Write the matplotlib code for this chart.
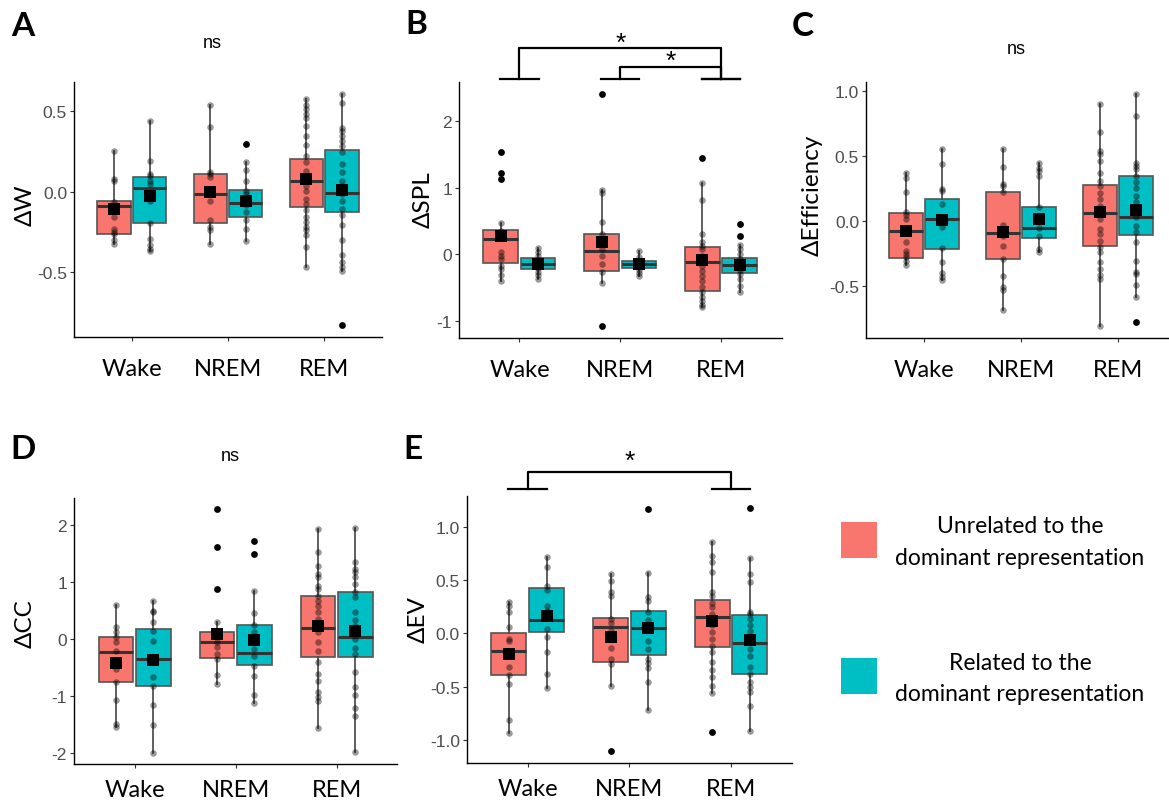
import matplotlib
matplotlib.use("Agg")
import matplotlib.pyplot as plt
from matplotlib.patches import Rectangle

# figure size in pixels (saved at dpi 100)
W, H = 1169, 804

conditions = ["Wake", "NREM", "REM"]
legend_labels = ["Unrelated to the\ndominant representation",
                 "Related to the\ndominant representation"]
colors = ["#F8766D", "#00BFC4"]

# box stats per condition: (whisker low, q1, median, q3, whisker high)
# _u = unrelated, _r = related

# ---- A : delta W
dw_box_u = [(-0.323, -0.261, -0.090, -0.056, 0.253), (-0.323, -0.193, -0.014, 0.111, 0.539), (-0.467, -0.097, 0.068, 0.204, 0.572)]
dw_box_r = [(-0.368, -0.195, 0.023, 0.093, 0.438), (-0.309, -0.158, -0.074, 0.010, 0.185), (-0.494, -0.128, -0.008, 0.255, 0.607)]
dw_mean_u = [-0.107, -0.004, 0.078]
dw_mean_r = [-0.029, -0.056, 0.012]
dw_pts_u = [[0.253, 0.078, 0.068, -0.066, -0.082, -0.097, -0.107, -0.158, -0.23, -0.251, -0.261, -0.302, -0.323],
            [0.539, 0.403, 0.119, 0.109, 0.088, -0.056, -0.179, -0.22, -0.241, -0.323],
            [0.572, 0.535, 0.51, 0.48, 0.459, 0.407, 0.346, 0.288, 0.222, 0.181, 0.13, 0.099, 0.068, 0.037, 0.006,
             -0.045, -0.076, -0.117, -0.158, -0.189, -0.22, -0.241, -0.272, -0.344, -0.467]]
dw_pts_r = [[0.438, 0.187, 0.109, 0.099, 0.068, 0.047, -0.014, -0.035, -0.056, -0.195, -0.292, -0.333, -0.354, -0.368],
            [0.185, 0.136, 0.068, 0.006, -0.014, -0.045, -0.086, -0.128, -0.179, -0.23, -0.309],
            [0.607, 0.547, 0.397, 0.377, 0.346, 0.315, 0.284, 0.243, 0.171, 0.119, 0.068, 0.037, 0.006, -0.014,
             -0.056, -0.107, -0.148, -0.21, -0.302, -0.395, -0.436, -0.467, -0.494]]
dw_out_u = [[], [], []]
dw_out_r = [[], [0.296], [-0.827]]

# ---- B : delta SPL
spl_box_u = [(-0.393, -0.124, 0.229, 0.363, 0.468), (-0.433, -0.249, 0.055, 0.299, 0.965), (-0.791, -0.552, -0.119, 0.109, 1.075)]
spl_box_r = [(-0.368, -0.219, -0.144, -0.06, 0.09), (-0.318, -0.209, -0.144, -0.095, 0.045), (-0.567, -0.284, -0.159, -0.06, 0.139)]
spl_mean_u = [0.274, 0.179, -0.09]
spl_mean_r = [-0.144, -0.144, -0.154]
spl_pts_u = [[0.468, 0.353, 0.303, 0.03, -0.02, -0.07, -0.169, -0.219, -0.308, -0.393],
             [0.965, 0.925, 0.488, 0.303, 0.154, 0.08, -0.02, -0.144, -0.269, -0.433],
             [1.075, 0.816, 0.303, 0.189, 0.129, 0.08, -0.02, -0.095, -0.169, -0.244, -0.318, -0.393, -0.493,
              -0.567, -0.632, -0.692, -0.756, -0.791]]
spl_pts_r = [[0.09, 0.03, -0.03, -0.085, -0.119, -0.144, -0.169, -0.209, -0.259, -0.308, -0.368],
             [0.045, -0.045, -0.119, -0.169, -0.229, -0.279, -0.318],
             [0.139, 0.08, 0.005, -0.07, -0.119, -0.169, -0.229, -0.294, -0.368, -0.468, -0.567]]
spl_out_u = [[1.537, 1.224, 1.134], [2.403, -1.075], [1.448]]
spl_out_r = [[], [], [0.448, 0.269]]
spl_sig = [(0, 2), (1, 2)]

# ---- C : delta Efficiency
eff_box_u = [(-0.342, -0.286, -0.077, 0.061, 0.372), (-0.686, -0.296, -0.094, 0.224, 0.554), (-0.806, -0.189, 0.059, 0.278, 0.9)]
eff_box_r = [(-0.452, -0.214, 0.015, 0.168, 0.554), (-0.24, -0.128, -0.054, 0.107, 0.444), (-0.584, -0.105, 0.028, 0.344, 0.977)]
eff_mean_u = [-0.079, -0.087, 0.066]
eff_mean_r = [0.01, 0.015, 0.082]
eff_pts_u = [[0.367, 0.329, 0.224, 0.066, 0.046, 0.015, -0.074, -0.158, -0.227, -0.253, -0.278, -0.311, -0.342],
             [0.554, 0.418, 0.288, 0.27, 0.224, -0.028, -0.117, -0.189, -0.296, -0.426, -0.508, -0.533, -0.686],
             [0.9, 0.684, 0.538, 0.513, 0.462, 0.372, 0.309, 0.27, 0.219, 0.168, 0.117, 0.054, 0.015, -0.061,
              -0.099, -0.15, -0.202, -0.24, -0.316, -0.367, -0.413, -0.444, -0.806]]
eff_pts_r = [[0.554, 0.441, 0.245, 0.232, 0.13, -0.048, -0.209, -0.316, -0.398, -0.431, -0.452],
             [0.444, 0.411, 0.385, 0.347, 0.105, 0.028, -0.056, -0.117, -0.214, -0.24],
             [0.977, 0.811, 0.449, 0.423, 0.398, 0.347, 0.301, 0.25, 0.194, 0.143, 0.092, 0.028, -0.036, -0.087,
              -0.158, -0.304, -0.393, -0.406, -0.495, -0.584]]
eff_out_u = [[], [], []]
eff_out_r = [[], [], [-0.776]]

# ---- D : delta CC
cc_box_u = [(-1.541, -0.753, -0.224, 0.029, 0.606), (-0.794, -0.341, -0.047, 0.118, 0.306), (-1.559, -0.318, 0.2, 0.765, 1.929)]
cc_box_r = [(-2.0, -0.824, -0.353, 0.176, 0.676), (-1.129, -0.459, -0.247, 0.253, 0.853), (-1.982, -0.312, 0.035, 0.829, 1.959)]
cc_mean_u = [-0.424, 0.088, 0.224]
cc_mean_r = [-0.365, -0.012, 0.141]
cc_pts_u = [[0.606, 0.206, 0.118, 0.029, -0.047, -0.206, -0.382, -0.441, -0.529, -0.753, -1.071, -1.5, -1.541],
            [0.306, 0.118, 0.059, -0.047, -0.147, -0.265, -0.353, -0.629, -0.794],
            [1.929, 1.529, 1.294, 1.147, 1.088, 0.941, 0.882, 0.765, 0.676, 0.588, 0.47, 0.353, 0.235, 0.118,
             -0.059, -0.206, -0.412, -0.618, -0.735, -0.941, -1.029, -1.088, -1.559]]
cc_pts_r = [[0.676, 0.5, 0.47, 0.306, 0.147, -0.029, -0.382, -0.676, -0.824, -1.159, -1.518, -2.0],
            [0.853, 0.453, 0.253, 0.118, 0.029, -0.176, -0.306, -0.471, -0.659, -0.988, -1.129],
            [1.959, 1.353, 1.235, 1.176, 1.088, 0.971, 0.824, 0.735, 0.482, 0.335, 0.235, 0.088, 0.0, -0.165,
             -0.265, -0.576, -0.853, -0.988, -1.206, -1.353, -1.982]]
cc_out_u = [[], [2.282, 1.618, 0.882], []]
cc_out_r = [[], [1.724, 1.5], []]

# ---- E : delta EV
ev_box_u = [(-0.934, -0.388, -0.166, 0.006, 0.297), (-0.497, -0.266, 0.056, 0.141, 0.556), (-0.559, -0.125, 0.15, 0.313, 0.853)]
ev_box_r = [(-0.516, 0.009, 0.125, 0.422, 0.716), (-0.722, -0.203, 0.047, 0.209, 0.566), (-0.919, -0.378, -0.094, 0.172, 0.706)]
ev_mean_u = [-0.197, -0.038, 0.119]
ev_mean_r = [0.159, 0.053, -0.063]
ev_pts_u = [[0.297, 0.253, 0.203, 0.056, -0.053, -0.072, -0.194, -0.319, -0.391, -0.475, -0.813, -0.934],
            [0.556, 0.494, 0.384, 0.353, 0.134, 0.097, 0.019, -0.141, -0.241, -0.288, -0.497],
            [0.853, 0.722, 0.666, 0.572, 0.391, 0.353, 0.281, 0.244, 0.181, 0.134, 0.078, 0.009, -0.053, -0.116,
             -0.178, -0.266, -0.341, -0.413, -0.491, -0.559]]
ev_pts_r = [[0.716, 0.619, 0.447, 0.409, 0.259, 0.213, 0.15, 0.041, -0.038, -0.178, -0.381, -0.516],
            [0.566, 0.344, 0.306, 0.197, 0.128, 0.041, -0.069, -0.147, -0.241, -0.281, -0.328, -0.459, -0.722],
            [0.706, 0.556, 0.484, 0.203, 0.181, 0.134, 0.078, 0.025, -0.069, -0.147, -0.209, -0.319, -0.381,
             -0.459, -0.506, -0.547, -0.684, -0.919]]
ev_out_u = [[], [-1.1], [-0.922]]
ev_out_r = [[], [1.166], [1.175]]
ev_sig = [(0, 2)]

label_font = ["Lato", "DejaVu Sans"]
num_font = ["Liberation Sans", "DejaVu Sans"]

fig = plt.figure(figsize=(W / 100, H / 100), dpi=100)


def fx(x):
    return x / W


def fy(y):
    return 1 - y / H


def px_axes(l, t, r, b):
    return fig.add_axes([l / W, 1 - b / H, (r - l) / W, (b - t) / H])


def draw_panel(ax, boxes, means, pts, outs, ylim, yticks, yticklabels, xpad=12):
    for g in range(2):
        off = -0.185 if g == 0 else 0.185
        pos = [i + 1 + off for i in range(len(conditions))]
        stats = [dict(whislo=b[0], q1=b[1], med=b[2], q3=b[3], whishi=b[4]) for b in boxes[g]]
        ax.bxp(stats, positions=pos, widths=0.345, patch_artist=True, showfliers=False, showcaps=False,
               boxprops=dict(facecolor=colors[g], edgecolor="#555555", linewidth=1.2),
               whiskerprops=dict(color="#444444", linewidth=1.2),
               medianprops=dict(color="#333333", linewidth=2.2), manage_ticks=False)
        for i in range(len(conditions)):
            ax.scatter([pos[i]] * len(pts[g][i]), pts[g][i], s=22, color="black", alpha=0.4, lw=0, zorder=3)
            if outs[g][i]:
                ax.scatter([pos[i]] * len(outs[g][i]), outs[g][i], s=24, color="black", lw=0, zorder=3)
        ax.scatter(pos, means[g], marker="s", s=70, color="black", lw=0, zorder=4)
    ax.set_xlim(0.4, 3.6)
    ax.set_ylim(*ylim)
    ax.set_xticks([1, 2, 3])
    ax.set_xticklabels(conditions, family=label_font, fontsize=17, color="black")
    ax.set_yticks(yticks)
    ax.set_yticklabels(yticklabels, family=num_font, fontsize=12.5, color="#4d4d4d")
    ax.tick_params(axis="both", length=3, width=0.8, color="#333333")
    ax.tick_params(axis="y", pad=2)
    ax.tick_params(axis="x", pad=xpad)
    for s in ["top", "right"]:
        ax.spines[s].set_visible(False)
    for s in ["left", "bottom"]:
        ax.spines[s].set_linewidth(1.0)
        ax.spines[s].set_color("black")


def draw_brackets(ax, sig, base, tops, stars):
    for (a, b), top, st in zip(sig, tops, stars):
        for c in (a, b):
            ax.plot([c + 1 - 0.19, c + 1 + 0.19], [base, base], color="black", lw=1.6, clip_on=False)
        ax.plot([a + 1, a + 1, b + 1, b + 1], [base, top, top, base], color="black", lw=1.6, clip_on=False)
        ax.text((a + b) / 2 + 1, st, "*", ha="center", va="center", fontsize=19, family=num_font, clip_on=False)


# A
axA = px_axes(74, 83, 382, 338)
draw_panel(axA, (dw_box_u, dw_box_r), (dw_mean_u, dw_mean_r), (dw_pts_u, dw_pts_r), (dw_out_u, dw_out_r),
           (-0.9025, 0.68), [-0.5, 0, 0.5], ["-0.5", "0.0", "0.5"])
# B
axB = px_axes(459, 83, 781.5, 339.3)
draw_panel(axB, (spl_box_u, spl_box_r), (spl_mean_u, spl_mean_r), (spl_pts_u, spl_pts_r), (spl_out_u, spl_out_r),
           (-1.257, 2.58), [-1, 0, 1, 2], ["-1", "0", "1", "2"])
draw_brackets(axB, spl_sig, 2.62, [3.09, 2.80], [3.17, 2.89])
# C
axC = px_axes(866, 83, 1176, 339.3)
draw_panel(axC, (eff_box_u, eff_box_r), (eff_mean_u, eff_mean_r), (eff_pts_u, eff_pts_r), (eff_out_u, eff_out_r),
           (-0.902, 1.069), [-0.5, 0, 0.5, 1.0], ["-0.5", "0.0", "0.5", "1.0"])
# D
axD = px_axes(74, 499.3, 397.4, 765)
draw_panel(axD, (cc_box_u, cc_box_r), (cc_mean_u, cc_mean_r), (cc_pts_u, cc_pts_r), (cc_out_u, cc_out_r),
           (-2.2, 2.477), [-2, -1, 0, 1, 2], ["-2", "-1", "0", "1", "2"], xpad=8)
# E
axE = px_axes(466.7, 497.3, 792, 764)
draw_panel(axE, (ev_box_u, ev_box_r), (ev_mean_u, ev_mean_r), (ev_pts_u, ev_pts_r), (ev_out_u, ev_out_r),
           (-1.216, 1.284), [-1.0, -0.5, 0, 0.5, 1.0], ["-1.0", "-0.5", "0.0", "0.5", "1.0"], xpad=8)
draw_brackets(axE, ev_sig, 1.352, [1.509], [1.62])

# panel letters, y labels, ns
for letter, x, y in [("A", 23, 26), ("B", 416, 25), ("C", 802.7, 26.7), ("D", 23.3, 449.3), ("E", 412.7, 449.3)]:
    fig.text(fx(x), fy(y), letter, ha="center", va="center", fontsize=24, fontweight="bold", family=label_font)

for lab, x, y in [("\u0394W", 25, 205), ("\u0394SPL", 423.3, 200), ("\u0394Efficiency", 811.7, 195),
                  ("\u0394CC", 25, 624), ("\u0394EV", 418.3, 620)]:
    fig.text(fx(x), fy(y), lab, ha="center", va="center", rotation=90, fontsize=17.5, family=label_font)

for x, y in [(212, 43), (1016.7, 49.3), (230.7, 456.7)]:
    fig.text(fx(x), fy(y), "ns", ha="center", va="center", fontsize=13, family=num_font)

# legend
for i, (lab, sq_top, text_y) in enumerate(zip(legend_labels, [522.7, 659], [526.7, 663.3])):
    fig.add_artist(Rectangle((fx(841), fy(sq_top + 36)), 36 / W, 36 / H, transform=fig.transFigure,
                             facecolor=colors[i], edgecolor="none"))
    for j, line in enumerate(lab.split("\n")):
        fig.text(fx(1020), fy(text_y + j * 31.6), line, ha="center", va="center", fontsize=16.5, family=label_font)

fig.savefig("out.png", dpi=100)
